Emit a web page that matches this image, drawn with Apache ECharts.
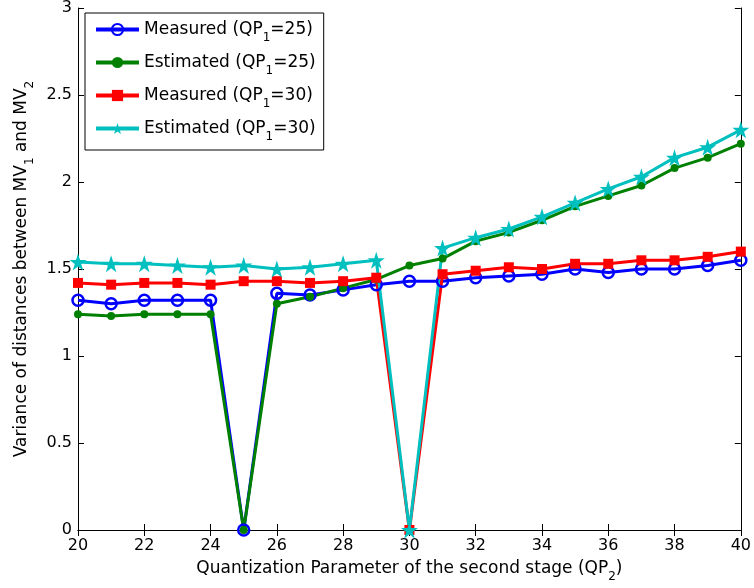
<!DOCTYPE html>
<html>
<head>
<meta charset="utf-8">
<script src="https://cdn.jsdelivr.net/npm/echarts@6/dist/echarts.min.js"></script>
<style>
  html, body { margin: 0; padding: 0; background: #fff; }
  #main { width: 754px; height: 588px; }
</style>
</head>
<body>
<div id="main"></div>
<script>
  // QP2 values on the x axis
  var qp2 = [20, 21, 22, 23, 24, 25, 26, 27, 28, 29, 30, 31, 32, 33, 34, 35, 36, 37, 38, 39, 40];

  var measured25 = [1.32, 1.30, 1.32, 1.32, 1.32, 0, 1.36, 1.35, 1.38, 1.41, 1.43, 1.43, 1.45, 1.46, 1.47, 1.50, 1.48, 1.50, 1.50, 1.52, 1.55];
  var estimated25 = [1.24, 1.23, 1.24, 1.24, 1.24, 0, 1.30, 1.34, 1.39, 1.44, 1.52, 1.56, 1.66, 1.71, 1.78, 1.86, 1.92, 1.98, 2.08, 2.14, 2.22];
  var measured30 = [1.42, 1.41, 1.42, 1.42, 1.41, 1.43, 1.43, 1.42, 1.43, 1.45, 0, 1.47, 1.49, 1.51, 1.50, 1.53, 1.53, 1.55, 1.55, 1.57, 1.60];
  var estimated30 = [1.54, 1.53, 1.53, 1.52, 1.51, 1.52, 1.50, 1.51, 1.53, 1.55, 0, 1.62, 1.68, 1.73, 1.80, 1.88, 1.96, 2.03, 2.14, 2.20, 2.30];

  var star = 'path://M0,-10L2.245,-3.09L9.511,-3.09L3.633,1.18L5.878,8.09L0,3.82L-5.878,8.09L-3.633,1.18L-9.511,-3.09L-2.245,-3.09Z';
  var font = 'DejaVu Sans';

  function pairs(vals) {
    var out = [];
    for (let i = 0; i < qp2.length; i++) {
      out[i] = [qp2[i], vals[i]];
    }
    return out;
  }

  var subRich = {
    sub: { fontSize: 12, fontFamily: font, color: '#000', verticalAlign: 'bottom', padding: [0, 0, -6, 0] }
  };

  var myChart = echarts.init(document.getElementById('main'));
  var option = {
    animation: false,
    backgroundColor: '#fff',
    textStyle: { fontFamily: font },
    grid: { left: 78, right: 11, top: 5, bottom: 58 },
    legend: {
      left: 85, top: 13, orient: 'vertical',
      backgroundColor: '#fff', borderColor: '#000', borderWidth: 1,
      padding: [8, 8, 7, 9], itemGap: 10,
      itemWidth: 43, itemHeight: 14,
      lineStyle: { width: 4 },
      textStyle: { fontSize: 17, fontFamily: font, color: '#000', rich: subRich },
      formatter: function (name) {
        return name.replace('QP1', 'QP{sub|1}');
      }
    },
    xAxis: [{
      type: 'value', min: 20, max: 40, interval: 2,
      name: 'Quantization Parameter of the second stage (QP{sub|2})',
      nameLocation: 'middle', nameGap: 30,
      nameTextStyle: { fontSize: 17, fontFamily: font, color: '#000', rich: subRich },
      axisLine: { lineStyle: { color: '#000', width: 1 } },
      axisTick: { inside: true, length: 6, lineStyle: { color: '#000' } },
      axisLabel: { fontSize: 16, fontFamily: font, color: '#000', margin: 8 },
      splitLine: { show: false }
    }, {
      type: 'value', min: 20, max: 40, interval: 2, position: 'top',
      axisLine: { lineStyle: { color: '#000', width: 1 } },
      axisTick: { inside: true, length: 6, lineStyle: { color: '#000' } },
      axisLabel: { show: false },
      splitLine: { show: false }
    }],
    yAxis: [{
      type: 'value', min: 0, max: 3, interval: 0.5,
      name: 'Variance of distances between MV{sub|1} and MV{sub|2}',
      nameLocation: 'middle', nameGap: 42,
      nameTextStyle: { fontSize: 17, fontFamily: font, color: '#000', rich: subRich },
      axisLine: { show: true, lineStyle: { color: '#000', width: 1 } },
      axisTick: { show: true, inside: true, length: 6, lineStyle: { color: '#000' } },
      axisLabel: { fontSize: 16, fontFamily: font, color: '#000', margin: 6 },
      splitLine: { show: false }
    }, {
      type: 'value', min: 0, max: 3, interval: 0.5, position: 'right',
      axisLine: { show: true, lineStyle: { color: '#000', width: 1 } },
      axisTick: { show: true, inside: true, length: 6, lineStyle: { color: '#000' } },
      axisLabel: { show: false },
      splitLine: { show: false }
    }],
    series: [
      {
        name: 'Measured (QP1=25)', type: 'line', data: pairs(measured25),
        symbol: 'circle', symbolSize: 11,
        lineStyle: { color: '#0000ff', width: 3 },
        itemStyle: { color: 'rgba(255,255,255,0)', borderColor: '#0000ff', borderWidth: 2.5 }
      },
      {
        name: 'Estimated (QP1=25)', type: 'line', data: pairs(estimated25),
        symbol: 'circle', symbolSize: 8,
        lineStyle: { color: '#008000', width: 3 },
        itemStyle: { color: '#008000', borderColor: '#008000', borderWidth: 0 }
      },
      {
        name: 'Measured (QP1=30)', type: 'line', data: pairs(measured30),
        symbol: 'rect', symbolSize: 10,
        lineStyle: { color: '#ff0000', width: 3 },
        itemStyle: { color: '#ff0000', borderColor: '#ff0000', borderWidth: 0 }
      },
      {
        name: 'Estimated (QP1=30)', type: 'line', data: pairs(estimated30),
        symbol: star, symbolSize: 17,
        lineStyle: { color: '#00bfbf', width: 3 },
        itemStyle: { color: '#00bfbf', borderColor: '#00bfbf', borderWidth: 0 }
      }
    ]
  };
  option && myChart.setOption(option);
</script>
</body>
</html>
